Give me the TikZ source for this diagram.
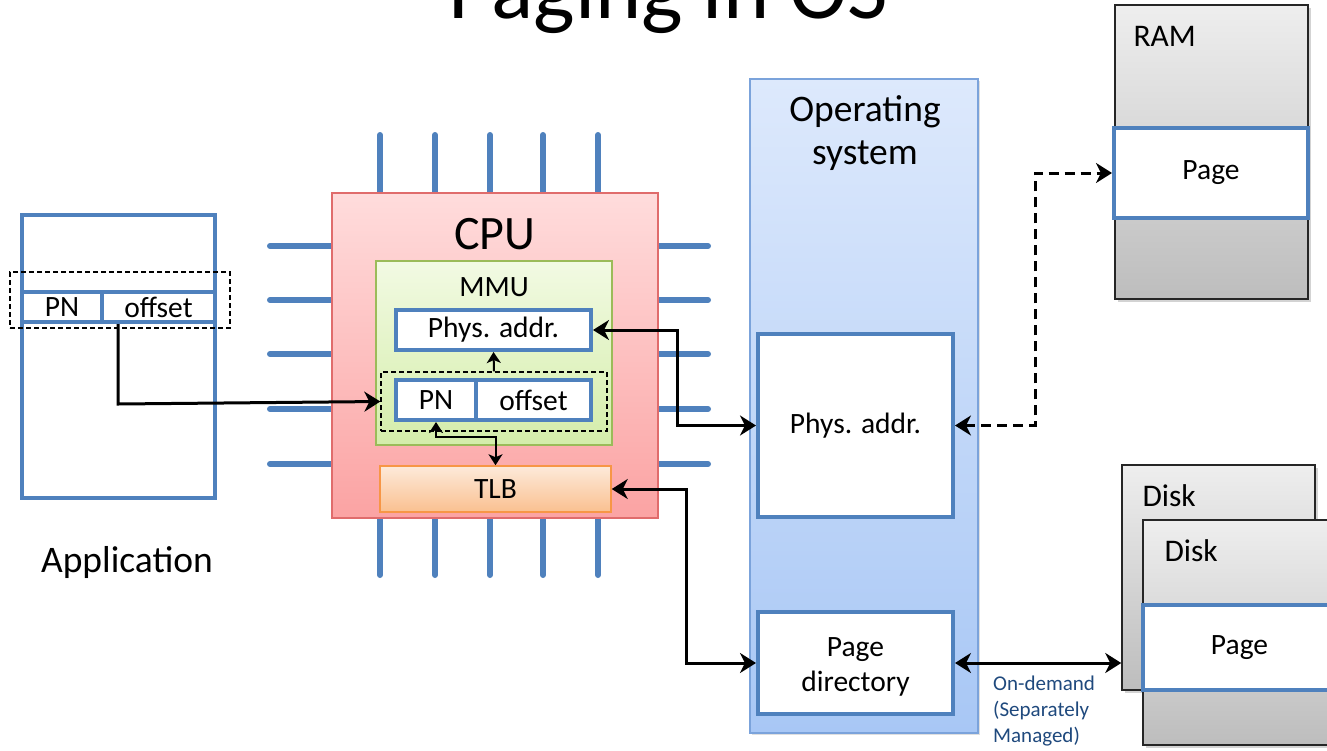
\documentclass[tikz,border=0pt]{standalone}
\usepackage{fontspec}
\setmainfont{Carlito}
\usetikzlibrary{arrows.meta,shadows,calc}
\definecolor{bl}{HTML}{4F81BD}
\definecolor{cputop}{HTML}{FFDCDC}
\definecolor{cpubot}{HTML}{FBA3A3}
\definecolor{cpubd}{HTML}{E06C6C}
\definecolor{mmutop}{HTML}{F2FAE3}
\definecolor{mmubot}{HTML}{D4EDAA}
\definecolor{mmubd}{HTML}{9BBB59}
\definecolor{tlbtop}{HTML}{FDEADA}
\definecolor{tlbbot}{HTML}{FAC090}
\definecolor{tlbbd}{HTML}{F79646}
\definecolor{ostop}{HTML}{DDE9FC}
\definecolor{osbot}{HTML}{A8C7F5}
\definecolor{osbd}{HTML}{7BA3DB}
\definecolor{grtop}{HTML}{EEEEEE}
\definecolor{grbot}{HTML}{BDBDBD}
\definecolor{note}{HTML}{1F497D}
\tikzset{
  fs/.style={font=\fontsize{#1}{#1}\selectfont},
  bbox/.style={draw=bl, line width=4pt, fill=white, inner sep=0pt, align=center, fs=29.5},
  pin/.style={draw=bl, line width=6pt, line cap=round},
  conn/.style={line width=3pt, {Stealth[length=16pt,width=20pt,inset=5pt]}-{Stealth[length=16pt,width=20pt,inset=5pt]}},
  conn1/.style={line width=3pt, -{Stealth[length=16pt,width=20pt,inset=5pt]}},
  small/.style={line width=2pt},
  stip/.tip={Stealth[length=11pt,width=14pt,inset=3pt]},
  dbox/.style={draw, dash pattern=on 5pt off 3pt, line width=1.3pt, inner sep=0pt},
  greybox/.style={draw=black!85, line width=1.5pt, top color=grtop, bottom color=grbot, inner sep=0pt,
    drop shadow={shadow xshift=2.5pt, shadow yshift=-2.5pt, opacity=0.35}},
}
\begin{document}
\begin{tikzpicture}[x=1pt,y=-1pt]
\useasboundingbox (0,0) rectangle (1327,750);
% title
\node[fs=88, anchor=base] (title) at (668,18) {Paging in OS};

% pins
\foreach \x in {380,435,490,543,598} {
  \draw[pin] (\x,135) -- (\x,193);
  \draw[pin] (\x,518) -- (\x,575);
}
\foreach \y in {246,300,354,409,464} {
  \draw[pin] (270,\y) -- (332,\y);
  \draw[pin] (658,\y) -- (708,\y);
}

% application
\node[bbox, minimum width=193pt, minimum height=283pt] (app) at (118.5,356.5) {};
\node[bbox, minimum width=80pt, minimum height=30pt] (pn1) at (62,307) {PN};
\node[bbox, minimum width=113pt, minimum height=30pt] (off1) at (158.5,307) {offset};
\node[dbox, minimum width=220pt, minimum height=56pt] (d1) at (120,300) {};
\node[fs=37.5] (applbl) at (127,562) {Application};

% CPU
\node[draw=cpubd, line width=1.5pt, top color=cputop, bottom color=cpubot, minimum width=326pt, minimum height=325pt, inner sep=0pt] (cpu) at (495,355.5) {};
\node[fs=48] (cpulbl) at (495,234) {CPU};
\node[draw=mmubd, line width=1.5pt, top color=mmutop, bottom color=mmubot, minimum width=236pt, minimum height=184pt, inner sep=0pt] (mmu) at (494,353) {};
\node[fs=29.5] (mmulbl) at (494,287) {MMU};
\node[bbox, minimum width=195pt, minimum height=40pt] (physm) at (493.5,330) {Phys. addr.};
\node[dbox, minimum width=226pt, minimum height=59pt] (d2) at (494,401.5) {};
\node[bbox, minimum width=80pt, minimum height=40pt] (pn2) at (436,400) {PN};
\node[bbox, minimum width=115pt, minimum height=40pt] (off2) at (533.5,400) {offset};
\node[draw=tlbbd, line width=1.5pt, top color=tlbtop, bottom color=tlbbot, minimum width=231pt, minimum height=46pt, inner sep=0pt, fs=29.5] (tlb) at (495.5,489) {TLB};

% OS
\node[draw=osbd, line width=1.5pt, top color=ostop, bottom color=osbot, minimum width=228pt, minimum height=654pt, inner sep=0pt,
  drop shadow={shadow xshift=2pt, shadow yshift=-2pt, opacity=0.25}] (os) at (864,406) {};
\node[fs=37.5, align=center] (oslbl) at (865,133) {Operating\\[6pt]system};
\node[bbox, minimum width=195pt, minimum height=183pt] (osphys) at (855.5,425.5) {Phys. addr.};
\node[bbox, minimum width=195pt, minimum height=102pt] (pd) at (855.5,663) {};
\node[fs=29.5, align=center] (pdlbl) at (855.5,667) {Page\\[5pt]directory};

% RAM
\node[greybox, minimum width=193pt, minimum height=294pt] (ram) at (1211.5,152) {};
\node[fs=31.5, anchor=west] (ramlbl) at (1130,36) {RAM};
\node[bbox, minimum width=194pt, minimum height=90pt] (rampage) at (1211,173) {Page};

% Disks
\node[greybox, minimum width=193pt, minimum height=225pt] (disk1) at (1218.5,577.5) {};
\node[fs=31.5, anchor=west] (disk1lbl) at (1139,496) {Disk};
\node[greybox, minimum width=193pt, minimum height=225pt] (disk2) at (1239.5,632.5) {};
\node[fs=31.5, anchor=west] (disk2lbl) at (1161,551) {Disk};
\node[bbox, minimum width=193pt, minimum height=85pt] (dpage) at (1239.5,647.5) {Page};

% note
\node[text=note, align=left, anchor=north west, inner sep=0pt, font=\fontsize{21}{26}\selectfont] (note) at (993,676) {On-demand\\(Separately\\Managed)};

% connectors
\draw[conn1] ([xshift=18pt]off1.south west) -- ++(0,80) -- (d2.west);
\draw[small, -stip] (d2.north) -- (physm.south);
\draw[small, stip-stip] (pn2.south) -- ++(0,15) -| (tlb.north);
\draw[conn] (physm.east) -- ++(84,0) |- (osphys.west);
\draw[conn] (tlb.east) -- ++(75,0) |- (pd.west);
\draw[conn, dash pattern=on 10pt off 6pt] (osphys.east) -- ++(80,0) |- (rampage.west);
\draw[conn] (pd.east) -- (pd.east -| disk1.west);
\end{tikzpicture}
\end{document}
